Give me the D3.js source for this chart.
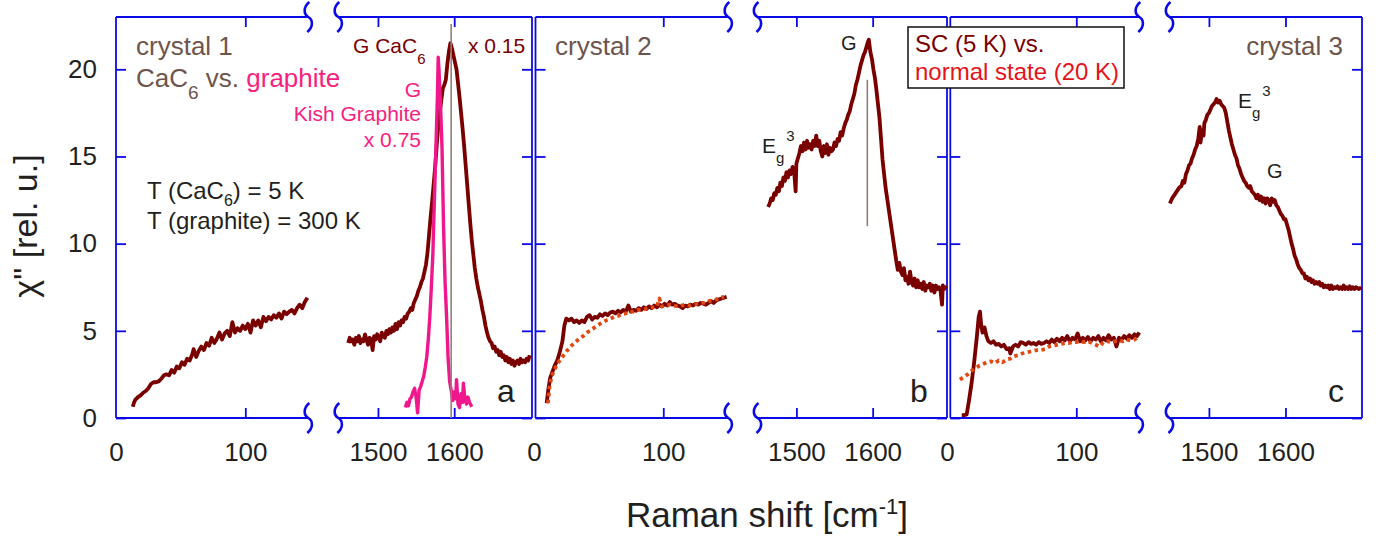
<!DOCTYPE html>
<html><head><meta charset="utf-8">
<script src="https://cdn.jsdelivr.net/npm/d3@7"></script>
<style>body{margin:0;background:#fff}svg{display:block}text{font-family:"Liberation Sans",Arial,Helvetica,sans-serif}</style>
</head><body><svg id="c" width="1381" height="536"></svg>
<script>
// ---------------- data ----------------
const yTicks = [0, 5, 10, 15, 20];
const lowTicks = [0, 100];
const highTicks = [1500, 1600];

// crystal 1, low-frequency (CaC6, 5 K)
const crystal1Low = [[13,0.65],[14,0.9],[15,1.05],[17,1.2],[19,1.3],[21,1.45],[23,1.55],[25,1.7],[27,1.95],[29,2.05],[31,2.05],[33,2.1],[35,2.25],[37,2.45],[39,2.5],[41,2.45],[43,2.75],[45,2.6],[47,2.95],[49,2.85],[51,3.2],[53,3.05],[55,3.4],[57,3.3],[59,3.65],[60,3.95],[62,3.5],[64,3.85],[66,4.1],[68,3.9],[70,4.3],[72,4.15],[74,4.6],[76,4.3],[78,4.55],[80,4.9],[82,4.5],[84,4.85],[86,5.0],[88,4.7],[90,5.5],[92,4.9],[94,5.15],[96,5.0],[98,5.3],[100,5.1],[102,5.4],[104,4.9],[106,5.6],[108,5.3],[110,5.6],[112,5.2],[114,5.8],[116,5.55],[118,5.8],[120,5.65],[122,5.9],[124,5.75],[126,6.0],[128,5.7],[130,6.1],[132,5.95],[134,6.1],[136,6.2],[138,6.0],[140,6.3],[142,6.5],[144,6.3],[146,6.65],[148,6.9]];

// crystal 1, G-band region: CaC6 (x 0.15)
const crystal1High = [[1461,4.3],[1463,4.6],[1465,4.4],[1467,4.5],[1469,4.2],[1471,4.6],[1473,4.4],[1475,4.7],[1477,4.3],[1479,4.5],[1481,4.4],[1483,4.8],[1485,4.5],[1487,4.2],[1489,4.6],[1491,4.5],[1493,3.9],[1495,4.7],[1497,4.5],[1499,4.8],[1501,4.6],[1503,4.4],[1505,4.9],[1507,4.7],[1509,4.6],[1511,5.0],[1513,4.8],[1515,5.1],[1517,4.9],[1519,5.2],[1521,5.0],[1523,5.4],[1525,5.1],[1527,5.5],[1529,5.3],[1531,5.6],[1533,5.5],[1535,5.8],[1537,5.7],[1539,6.0],[1541,6.1],[1543,6.3],[1545,6.2],[1547,6.6],[1549,6.8],[1551,7.0],[1553,7.3],[1555,7.5],[1557,7.8],[1559,8.0],[1561,8.4],[1563,8.8],[1565,9.5],[1567,10.5],[1569,11.5],[1571,12.4],[1573,13.4],[1575,14.4],[1577,15.6],[1579,16.7],[1581,17.5],[1583,18.2],[1585,18.9],[1587,19.1],[1589,19.4],[1591,20.3],[1593,21.0],[1595,21.5],[1597,21.2],[1599,20.8],[1601,20.4],[1603,20.0],[1605,19.2],[1607,18.4],[1609,17.5],[1611,16.6],[1613,15.6],[1615,14.5],[1617,13.4],[1619,12.3],[1621,11.2],[1623,10.2],[1625,9.4],[1627,8.6],[1629,8.0],[1631,7.5],[1633,7.1],[1635,6.7],[1637,6.2],[1639,5.8],[1641,5.3],[1643,4.9],[1645,4.6],[1647,4.4],[1649,4.3],[1651,4.0],[1653,4.1],[1655,3.8],[1657,3.9],[1659,3.6],[1661,3.8],[1663,3.5],[1665,3.6],[1667,3.3],[1669,3.5],[1671,3.2],[1673,3.4],[1675,3.1],[1677,3.3],[1679,3.0],[1681,3.2],[1683,3.3],[1685,3.1],[1687,3.4],[1689,3.2],[1691,3.3],[1693,3.2],[1695,3.4],[1697,3.3],[1699,3.6]];

// Kish graphite G band (x 0.75, 300 K)
const kishGraphite = [[1536,0.6],[1538,0.9],[1540,0.7],[1542,1.1],[1544,1.2],[1546,1.5],[1548,1.7],[1550,1.2],[1552,0.3],[1554,1.6],[1556,1.8],[1558,2.1],[1560,2.4],[1562,2.9],[1564,3.5],[1566,4.5],[1568,5.8],[1570,7.5],[1572,9.4],[1574,12.5],[1576,15.5],[1578,18.5],[1579,20.7],[1580,20.0],[1582,18.0],[1584,15.5],[1586,11.0],[1588,7.8],[1590,5.8],[1592,3.4],[1594,2.1],[1596,1.6],[1598,1.0],[1600,1.5],[1602,1.1],[1603,2.2],[1605,0.8],[1607,0.6],[1609,1.4],[1611,0.9],[1612,2.0],[1614,1.1],[1616,0.8],[1618,1.2],[1620,0.9],[1623,0.65]];

// crystal 2, low-frequency: SC (5 K) and normal state (20 K)
const crystal2LowSC = [[9.8,0.85],[11,1.6],[12.5,2.3],[14,2.6],[16,3.0],[18,3.3],[20,3.8],[22,4.4],[23.5,5.3],[25,5.7],[27,5.6],[29,5.7],[31,5.5],[33,5.6],[35,5.45],[37,5.6],[39,5.5],[41,5.8],[43,5.9],[45,5.65],[47,5.8],[49,5.75],[51,5.95],[53,5.85],[55,6.0],[57,5.9],[59,6.05],[61,6.1],[63,6.0],[65,6.15],[67,6.05],[69,6.2],[71,6.1],[73,6.45],[75,6.1],[77,6.2],[79,6.15],[81,6.3],[83,6.2],[85,6.35],[87,6.25],[89,6.4],[91,6.3],[93,6.45],[95,6.35],[97,6.5],[99,6.4],[101,6.55],[103,6.45],[105,6.65],[107,6.5],[109,6.55],[111,6.45],[113,6.4],[115,6.3],[117,6.45],[119,6.4],[121,6.5],[123,6.45],[125,6.55],[127,6.5],[129,6.6],[131,6.55],[133,6.5],[135,6.6],[137,6.7],[139,6.6],[141,6.75],[143,6.8],[145,6.85],[147,6.9],[149,6.95]];
const crystal2LowN = [[10.8,0.85],[12,1.8],[13.7,2.4],[16,2.8],[18,3.1],[20,3.3],[23,3.6],[26,3.9],[29,4.15],[32,4.35],[35,4.55],[38,4.7],[41,4.9],[44,5.05],[47,5.2],[50,5.35],[53,5.5],[56,5.6],[59,5.7],[62,5.8],[65,5.85],[68,5.95],[71,6.0],[74,6.1],[77,6.1],[80,6.2],[83,6.2],[86,6.25],[89,6.3],[92,6.35],[95,6.4],[97,6.85],[99,6.4],[102,6.45],[105,6.5],[108,6.45],[111,6.4],[114,6.45],[117,6.5],[120,6.45],[123,6.5],[126,6.55],[129,6.6],[132,6.6],[135,6.7],[138,6.75],[141,6.8],[144,6.9],[147,6.95]];

// crystal 2, G-band region
const crystal2High = [[1463,12.1],[1465,12.3],[1467,12.6],[1469,12.5],[1471,12.9],[1473,12.8],[1475,13.2],[1477,13.0],[1479,13.5],[1481,13.3],[1483,13.8],[1485,13.6],[1487,14.1],[1489,13.8],[1491,14.2],[1493,14.0],[1495,14.4],[1497,14.2],[1499,13.0],[1500,14.6],[1502,14.9],[1504,15.2],[1506,15.6],[1508,15.3],[1510,15.8],[1512,15.4],[1514,15.9],[1516,15.5],[1518,15.7],[1520,15.4],[1522,15.9],[1524,15.6],[1526,16.2],[1528,15.6],[1530,15.9],[1532,15.3],[1534,15.0],[1536,15.6],[1538,15.2],[1540,15.7],[1542,15.1],[1544,15.5],[1546,15.3],[1548,15.4],[1550,15.8],[1552,15.6],[1554,16.0],[1556,15.9],[1558,16.4],[1560,16.2],[1562,16.6],[1564,16.9],[1566,17.1],[1568,17.4],[1570,17.6],[1572,18.0],[1574,18.3],[1576,18.6],[1578,19.1],[1580,19.4],[1582,19.8],[1584,20.2],[1586,20.5],[1588,20.8],[1590,21.0],[1592,21.3],[1594,21.6],[1595,21.7],[1597,21.0],[1599,20.6],[1601,20.0],[1603,19.5],[1605,18.8],[1607,18.0],[1609,17.2],[1611,16.0],[1613,14.8],[1615,14.0],[1617,13.2],[1619,12.6],[1621,12.0],[1623,11.4],[1625,10.8],[1627,10.2],[1629,9.6],[1631,9.0],[1633,8.5],[1635,8.9],[1637,8.4],[1639,8.2],[1641,8.6],[1643,7.9],[1645,8.1],[1647,7.7],[1649,8.4],[1651,7.8],[1653,7.6],[1655,8.0],[1657,7.5],[1659,7.9],[1661,7.5],[1663,7.7],[1665,7.4],[1667,7.8],[1669,7.3],[1671,7.6],[1673,7.5],[1675,7.7],[1677,7.3],[1679,7.6],[1681,7.2],[1683,7.6],[1685,7.4],[1687,7.5],[1689,7.3],[1691,6.5],[1692,7.6],[1694,7.4],[1696,7.6]];

// crystal 2 (second spot), low-frequency: SC (5 K) and normal state (20 K)
const scLowSC = [[11.4,0.17],[13,0.17],[15.2,0.2],[17,1.0],[19,2.0],[21,3.2],[23,4.6],[24.5,5.8],[25.5,6.1],[26.5,5.3],[27.5,4.9],[29,5.2],[30.5,4.7],[32,4.4],[34,4.3],[36,4.4],[38,4.2],[40,4.25],[42,4.1],[44,4.2],[46,3.95],[48,4.0],[49,3.7],[51,4.1],[53,4.2],[55,4.1],[57,4.35],[59,4.3],[61,4.2],[63,4.35],[65,4.25],[67,4.3],[69,4.2],[71,4.35],[73,4.25],[75,4.3],[77,4.4],[79,4.3],[81,4.5],[83,4.35],[85,4.55],[87,4.4],[89,4.6],[91,4.45],[93,4.7],[95,4.4],[97,4.6],[99,4.5],[101,4.85],[103,4.4],[105,4.6],[107,4.45],[109,4.65],[111,4.4],[113,4.6],[115,4.5],[117,4.7],[119,4.4],[121,4.6],[123,4.45],[125,4.75],[127,4.5],[129,4.6],[131,4.1],[133,4.6],[135,4.5],[137,4.7],[139,4.55],[141,4.75],[143,4.6],[145,4.8],[147,4.7],[148.7,4.9]];
const scLowN = [[10,2.2],[13,2.35],[16,2.5],[19,2.7],[22,2.85],[25,3.0],[28,3.1],[31,3.2],[34,3.25],[37,3.15],[40,3.3],[43,3.2],[46,3.35],[49,3.4],[52,3.55],[55,3.6],[58,3.7],[61,3.75],[64,3.8],[67,3.85],[70,3.9],[73,3.9],[76,3.95],[79,4.1],[82,4.15],[85,4.2],[88,4.25],[91,4.3],[94,4.3],[97,4.35],[100,4.35],[103,4.4],[106,4.35],[109,4.4],[112,4.3],[115,4.2],[118,4.1],[121,4.35],[124,4.4],[127,4.35],[130,4.4],[133,4.45],[136,4.4],[139,4.5],[142,4.45],[145,4.5],[147,4.6]];

// crystal 3, G-band region
const crystal3High = [[1449,12.3],[1452,12.6],[1455,12.8],[1458,13.0],[1461,13.2],[1464,13.3],[1466,13.6],[1468,13.5],[1470,14.0],[1472,14.2],[1474,14.5],[1476,14.6],[1478,14.9],[1480,15.1],[1482,15.4],[1484,15.6],[1486,16.0],[1488,16.7],[1489,15.8],[1491,16.5],[1493,16.2],[1494,16.9],[1496,17.1],[1498,17.4],[1500,17.5],[1502,17.7],[1504,17.9],[1506,18.0],[1508,18.1],[1510,18.3],[1512,18.1],[1514,18.2],[1516,18.0],[1518,17.9],[1520,17.8],[1522,17.5],[1524,17.0],[1526,16.5],[1528,16.1],[1530,15.7],[1532,15.4],[1534,15.1],[1536,14.9],[1538,14.5],[1540,14.3],[1542,14.0],[1544,13.8],[1546,13.6],[1548,13.5],[1550,13.3],[1552,13.2],[1554,13.3],[1556,13.0],[1558,12.9],[1560,12.8],[1562,12.6],[1564,12.8],[1566,12.5],[1568,12.7],[1570,12.4],[1572,12.6],[1574,12.3],[1576,12.6],[1578,12.5],[1580,12.2],[1582,12.6],[1584,12.4],[1586,12.5],[1588,12.2],[1590,12.1],[1592,11.9],[1594,11.7],[1596,11.6],[1598,11.4],[1600,11.4],[1602,11.1],[1604,10.8],[1606,10.4],[1608,10.0],[1610,9.7],[1612,9.3],[1614,9.1],[1616,8.8],[1618,8.6],[1620,8.5],[1622,8.3],[1624,8.3],[1626,8.0],[1628,8.1],[1630,7.9],[1632,8.0],[1634,7.8],[1636,7.9],[1638,7.7],[1640,7.8],[1642,7.7],[1644,7.8],[1646,7.6],[1648,7.7],[1650,7.5],[1652,7.6],[1654,7.5],[1656,7.6],[1658,7.4],[1660,7.6],[1662,7.4],[1664,7.5],[1666,7.45],[1668,7.55],[1670,7.4],[1672,7.5],[1674,7.4],[1676,7.6],[1678,7.4],[1680,7.5],[1682,7.4],[1684,7.55],[1686,7.4],[1688,7.5],[1690,7.4],[1692,7.5],[1694,7.45],[1696,7.4],[1699,7.5]];

// G-line markers: [shift, chi from, chi to]
const gMarkerA = [1596, 0, 22.6];
const gMarkerB = [1593, 11.0, 19.4];

// ---------------- drawing ----------------
const BLUE = '#0a0ae6', MAROON = '#7a0000', PINK = '#f0168c', PINKT = '#f8207e',
      ORANGE = '#e2470f', BROWN = '#6e544c', INK = '#231f20', RED = '#e5121a', GRAY = '#8f7f78';
const svg = d3.select('#c');
const TOP = 17, BOT = 418;
const y = d3.scaleLinear().domain([0, 23]).range([BOT, TOP]);

const panels = [
  {r:[116,308.3],  d:[0,148.7],      ticks:lowTicks,  leftAxis:116,   rightBreak:true, yLabels:true},
  {r:[338.3,532],  d:[1448,1702],    ticks:highTicks, leftBreak:true, rightAxis:532},
  {r:[534,728.3],  d:[0,150.3],      ticks:lowTicks,  leftAxis:535.5, rightBreak:true},
  {r:[757.5,947],  d:[1449,1697.5],  ticks:highTicks, leftBreak:true, rightAxis:947},
  {r:[947,1139.3], d:[0,148.7],      ticks:lowTicks,  leftAxis:950.3, rightBreak:true},
  {r:[1169.5,1362],d:[1448.5,1700],  ticks:highTicks, leftBreak:true, rightAxis:1362}
];
panels.forEach(p => p.x = d3.scaleLinear().domain(p.d).range(p.r));

function brk(cx, cy) {
  svg.append('path')
    .attr('d', `M${cx+1},${cy-15} C${cx-5},${cy-10} ${cx-5},${cy-3} ${cx},${cy} C${cx+5},${cy+3} ${cx+5},${cy+10} ${cx-1},${cy+15}`)
    .attr('fill','none').attr('stroke',BLUE).attr('stroke-width',2.6);
}
function styleAxis(g) {
  g.select('.domain').remove();
  g.selectAll('.tick line').attr('stroke', BLUE).attr('stroke-width', 1.8);
  g.selectAll('.tick text').attr('fill', INK).attr('font-size', 26)
   .attr('font-family','"Liberation Sans",Arial,sans-serif');
}

panels.forEach(p => {
  const hx0 = p.leftAxis ?? p.r[0], hx1 = p.rightAxis ?? p.r[1];
  const gb = svg.append('g').attr('transform', `translate(0,${BOT})`)
    .call(d3.axisBottom(p.x).tickValues(p.ticks).tickSize(-10).tickSizeOuter(0).tickPadding(25).tickFormat(d3.format('d')));
  styleAxis(gb);
  gb.selectAll('.tick').filter(d => d === 0).select('line').remove();
  const gt = svg.append('g').attr('transform', `translate(0,${TOP})`)
    .call(d3.axisTop(p.x).tickValues(p.ticks.filter(t => t !== 0)).tickSize(-10).tickSizeOuter(0).tickFormat(''));
  styleAxis(gt);
  [TOP, BOT].forEach(yy => svg.append('line').attr('x1', hx0).attr('x2', hx1).attr('y1', yy).attr('y2', yy)
    .attr('stroke', BLUE).attr('stroke-width', 1.8));
  if (p.leftAxis !== undefined) {
    const gl = svg.append('g').attr('transform', `translate(${p.leftAxis},0)`)
      .call(d3.axisLeft(y).tickValues(yTicks).tickSize(-10).tickSizeOuter(0).tickPadding(19)
        .tickFormat(p.yLabels ? d3.format('d') : ''));
    styleAxis(gl);
    svg.append('line').attr('x1', p.leftAxis).attr('x2', p.leftAxis).attr('y1', TOP).attr('y2', BOT)
      .attr('stroke', BLUE).attr('stroke-width', 1.8);
  }
  if (p.rightAxis !== undefined) {
    const gr = svg.append('g').attr('transform', `translate(${p.rightAxis},0)`)
      .call(d3.axisRight(y).tickValues(yTicks).tickSize(-10).tickSizeOuter(0).tickFormat(''));
    styleAxis(gr);
    svg.append('line').attr('x1', p.rightAxis).attr('x2', p.rightAxis).attr('y1', TOP).attr('y2', BOT)
      .attr('stroke', BLUE).attr('stroke-width', 1.8);
  }
  if (p.leftBreak) { brk(p.r[0], TOP); brk(p.r[0], BOT); }
  if (p.rightBreak) { brk(p.r[1], TOP); brk(p.r[1], BOT); }
});

function series(p, data, color, width, dash) {
  const line = d3.line().x(d => p.x(d[0])).y(d => y(d[1]));
  const path = svg.append('path').datum(data).attr('d', line).attr('fill', 'none')
    .attr('stroke', color).attr('stroke-width', width).attr('stroke-linejoin', 'round');
  if (dash) path.attr('stroke-dasharray', dash).attr('stroke-linecap', 'butt');
}
function marker(p, m) {
  svg.append('line').attr('x1', p.x(m[0])).attr('x2', p.x(m[0])).attr('y1', y(m[1])).attr('y2', y(m[2]))
    .attr('stroke', GRAY).attr('stroke-width', 1.6);
}

series(panels[0], crystal1Low, MAROON, 3.8);
series(panels[1], crystal1High, MAROON, 3.8);
series(panels[1], kishGraphite, PINK, 3.4);
marker(panels[1], gMarkerA);
series(panels[2], crystal2LowSC, MAROON, 3.8);
series(panels[2], crystal2LowN, ORANGE, 3.8, '3.5,3.5');
series(panels[3], crystal2High, MAROON, 3.8);
marker(panels[3], gMarkerB);
series(panels[4], scLowSC, MAROON, 3.8);
series(panels[4], scLowN, ORANGE, 3.8, '3.5,3.5');
series(panels[5], crystal3High, MAROON, 3.8);

function txt(x, yy, parts, o = {}) {
  const t = svg.append('text').attr('x', x).attr('y', yy).attr('font-size', o.size || 20)
    .attr('fill', o.fill || INK).attr('text-anchor', o.anchor || 'start');
  if (o.rotate) t.attr('transform', `rotate(${o.rotate},${x},${yy})`);
  let cur = 0;
  parts.forEach(pp => {
    if (typeof pp === 'string') pp = {t: pp};
    const dy = (pp.dy || 0) - cur; cur = pp.dy || 0;
    const s = t.append('tspan').text(pp.t).attr('dy', dy);
    if (pp.dx) s.attr('dx', pp.dx);
    if (pp.size) s.attr('font-size', pp.size);
    if (pp.fill) s.attr('fill', pp.fill);
  });
  return t;
}

txt(136, 55, ['crystal 1'], {size: 26, fill: BROWN});
txt(136, 87, ['CaC', {t: '6', dy: 12, size: 19}, ' vs. ', {t: 'graphite', fill: PINKT}], {size: 26, fill: BROWN});
txt(147, 199, ['T (CaC', {t: '6', dy: 7, size: 16}, ') = 5 K'], {size: 24});
txt(147, 229, ['T (graphite) = 300 K'], {size: 24});
txt(353, 53, ['G CaC', {t: '6', dy: 11, size: 15}], {size: 21, fill: MAROON});
txt(468, 53, ['x 0.15'], {size: 21, fill: MAROON});
txt(421, 97, ['G'], {size: 21, fill: PINKT, anchor: 'end'});
txt(421, 121, ['Kish Graphite'], {size: 21, fill: PINKT, anchor: 'end'});
txt(421, 147, ['x 0.75'], {size: 21, fill: PINKT, anchor: 'end'});
txt(555, 55, ['crystal 2'], {size: 26, fill: BROWN});
txt(1343, 55, ['crystal 3'], {size: 26, fill: BROWN, anchor: 'end'});
txt(841, 50, ['G'], {size: 20});
txt(762, 153, ['E', {t: 'g', dy: 10, size: 15}, {t: '3', dy: -12, size: 15, dx: 2}], {size: 21});
txt(1238, 108, ['E', {t: 'g', dy: 10, size: 15}, {t: '3', dy: -12, size: 15, dx: 2}], {size: 21});
txt(1267, 178, ['G'], {size: 20});
txt(497, 402, ['a'], {size: 32});
txt(910, 402, ['b'], {size: 32});
txt(1328, 402, ['c'], {size: 32});

svg.append('rect').attr('x', 908).attr('y', 27).attr('width', 216).attr('height', 61)
  .attr('fill', '#fff').attr('stroke', '#111').attr('stroke-width', 1.5);
txt(915, 52, ['SC (5 K) vs.'], {size: 24, fill: MAROON});
txt(915, 80, ['normal state (20 K)'], {size: 24, fill: RED});

txt(767, 527, ['Raman shift [cm', {t: '-1', dy: -13, size: 22}, ']'], {size: 35, anchor: 'middle'});
txt(37, 226, ['\u03C7" [rel. u.]'], {size: 34, anchor: 'middle', rotate: -90});
</script></body></html>
